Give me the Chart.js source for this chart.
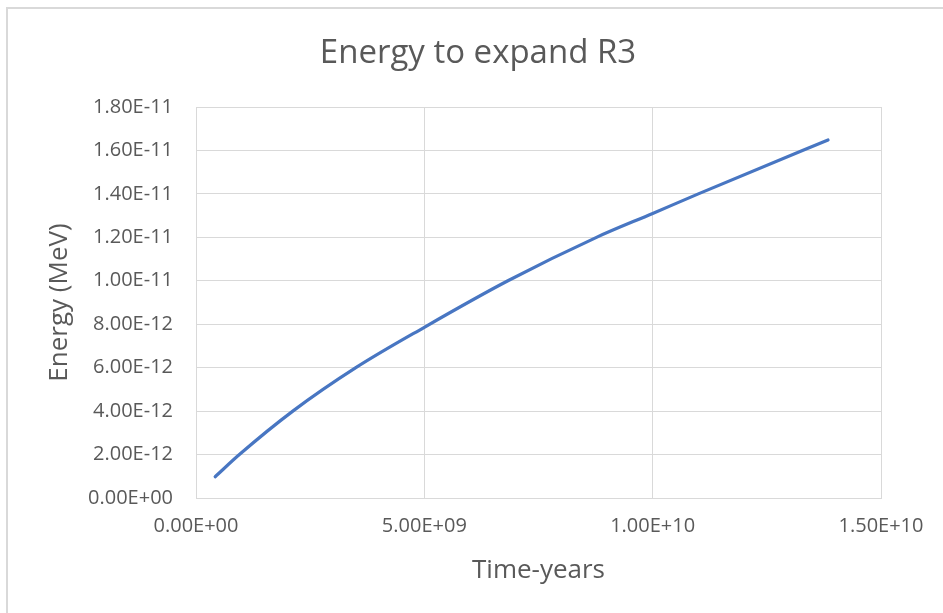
<!DOCTYPE html>
<html>
<head>
<meta charset="utf-8">
<title>Energy to expand R3</title>
<script src="https://cdn.jsdelivr.net/npm/chart.js@4.4.1/dist/chart.umd.min.js"></script>
<style>
    html, body { margin: 0; padding: 0; background: #fff; overflow: hidden; }
    #frame {
        position: absolute; left: 6px; top: 7px; width: 1000px; height: 700px;
        border-left: 2px solid #d9d9d9; border-top: 2px solid #d9d9d9;
    }
    #wrap { position: absolute; left: 0; top: 0; width: 943px; height: 613px; }
</style>
</head>
<body>
<div id="frame"></div>
<div id="wrap"><canvas id="energyChart" width="943" height="613"></canvas></div>
<script>
// values
const timeYears = [4.2e8, 9.5e8, 2.12e9, 3.50e9, 5.00e9, 6.83e9, 8.77e9, 1.00e10, 1.10e10, 1.328e10, 1.384e10];
const energyMeV = [0.98e-12, 2.0e-12, 4.0e-12, 6.0e-12, 7.86e-12, 10.0e-12, 12.0e-12, 13.1e-12, 14.0e-12, 16.0e-12, 16.48e-12];

const xTicks = [0, 5e9, 1e10, 1.5e10];
const yMax = 1.8e-11, yStep = 2e-12;

const textGrey = '#595959';
const gridGrey = '#d9d9d9';

// Excel style scientific labels: 1.80E-11
function sci(v) {
    const s = Number(v).toExponential(2).toUpperCase();
    const [m, e] = s.split('E');
    const sign = e[0] === '-' ? '-' : '+';
    const digits = e.replace(/[+-]/, '').padStart(2, '0');
    return m + 'E' + sign + digits;
}

const points = timeYears.map((t, i) => ({ x: t, y: energyMeV[i] }));

new Chart(document.getElementById('energyChart'), {
    type: 'line',
    data: {
        datasets: [{
            label: 'Energy',
            data: points,
            borderColor: '#4876c2',
            borderWidth: 3.2,
            borderCapStyle: 'round',
            pointRadius: 0,
            cubicInterpolationMode: 'monotone',
            fill: false,
        }],
    },
    options: {
        responsive: false,
        animation: false,
        // left padding shifts the title centre over the plot like Excel does
        layout: { padding: { left: 75, right: 62, top: 0, bottom: 0 } },
        plugins: {
            legend: { display: false },
            tooltip: { enabled: false },
            title: {
                display: true,
                text: 'Energy to expand R3',
                color: textGrey,
                font: { family: 'Open Sans', size: 33, weight: 'normal' },
                padding: { top: 34, bottom: 33.4 },
            },
        },
        scales: {
            x: {
                type: 'linear',
                min: 0, max: 1.5e10,
                afterBuildTicks: s => { s.ticks = xTicks.map(v => ({ value: v })); },
                afterFit: s => { s.height = 115; },
                grid: { color: gridGrey, drawTicks: false },
                border: { color: gridGrey },
                ticks: {
                    color: textGrey, padding: 16,
                    font: { family: 'Open Sans', size: 20 },
                    callback: v => sci(v),
                },
                title: {
                    display: true, text: 'Time-years', color: textGrey,
                    font: { family: 'Open Sans', size: 26 },
                    padding: { top: 0, bottom: 27 },
                },
            },
            y: {
                min: 0, max: yMax,
                afterFit: s => { s.width = 121; },
                grid: { color: gridGrey, drawTicks: false },
                border: { color: gridGrey },
                ticks: {
                    color: textGrey, padding: 23, stepSize: yStep,
                    font: { family: 'Open Sans', size: 20 },
                    callback: v => sci(v),
                },
                title: {
                    display: true, text: 'Energy (MeV)', color: textGrey,
                    font: { family: 'Open Sans', size: 26 },
                    padding: { top: -30.6, bottom: 0 },
                },
            },
        },
    },
});
</script>
</body>
</html>
